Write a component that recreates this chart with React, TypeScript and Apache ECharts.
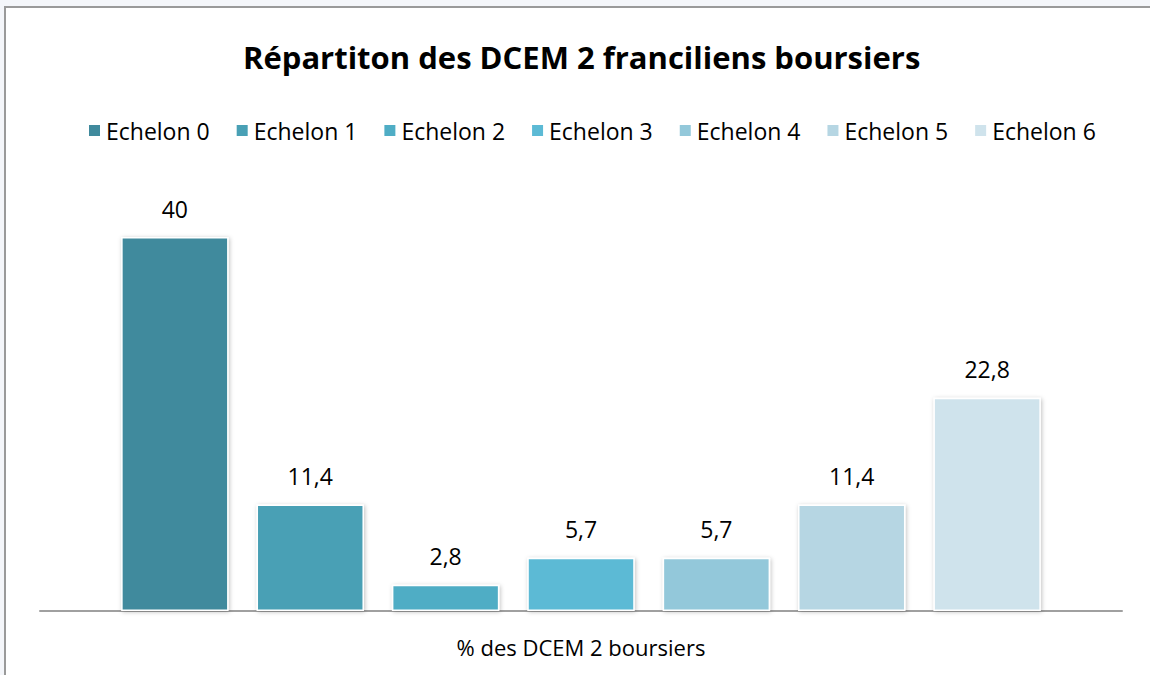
import React, { useEffect, useRef } from "react";
import * as echarts from "echarts";

const categories = ["% des DCEM 2 boursiers"];
const seriesNames = ["Echelon 0", "Echelon 1", "Echelon 2", "Echelon 3", "Echelon 4", "Echelon 5", "Echelon 6"];
const values = [40, 11.4, 2.8, 5.7, 5.7, 11.4, 22.8];
const colors = ["#408A9D", "#49A0B5", "#4FADC5", "#5CBAD5", "#93C8DA", "#B6D6E3", "#CFE3EC"];

export default function App() {
  const ref = useRef<HTMLDivElement>(null);
  useEffect(() => {
    if (!ref.current) return;
    const chart = echarts.init(ref.current, undefined, { renderer: "svg" });
    const font = "'Open Sans', sans-serif";
    chart.setOption({
      animation: false,
      backgroundColor: "#F4F6FA",
      textStyle: { fontFamily: font },
      graphic: [
        {
          type: "rect",
          shape: { x: 5, y: 7, width: 1160, height: 680 },
          style: { fill: "#ffffff", stroke: "#9A9A9A", lineWidth: 2 },
          z: -10,
        },
      ],
      title: {
        text: "Répartiton des DCEM 2 franciliens boursiers",
        left: 238,
        top: 36,
        textStyle: { fontFamily: font, fontSize: 31, fontWeight: "bold", color: "#000" },
      },
      legend: {
        top: 114,
        left: 82,
        itemWidth: 13,
        itemHeight: 13,
        itemGap: 25,
        icon: "rect",
        textStyle: { fontFamily: font, fontSize: 23, color: "#000" },
        data: seriesNames,
      },
      grid: { left: 40, right: 28, top: 237, bottom: 64 },
      xAxis: {
        type: "category",
        data: categories,
        axisLine: { lineStyle: { color: "#A0A0A0", width: 2 } },
        axisTick: { show: false },
        axisLabel: { fontFamily: font, fontSize: 22, color: "#000", margin: 25 },
      },
      yAxis: {
        type: "value",
        min: 0,
        max: 40,
        show: false,
        splitLine: { show: false },
      },
      series: seriesNames.map((name, i) => ({
        name,
        type: "bar",
        data: [values[i]],
        barCategoryGap: "15%",
        barGap: "26%",
        itemStyle: {
          color: colors[i],
          borderColor: "#ffffff",
          borderWidth: 1.5,
          shadowColor: "rgba(0,0,0,0.25)",
          shadowBlur: 4,
          shadowOffsetX: 1,
          shadowOffsetY: 1,
        },
        label: {
          show: true,
          position: "top",
          distance: 17,
          fontFamily: font,
          fontSize: 23,
          color: "#000",
          formatter: (p: any) => String(p.value).replace(".", ","),
        },
      })),
    });
    return () => chart.dispose();
  }, []);
  return (
    <div
      ref={ref}
      style={{ position: "fixed", left: 0, top: 0, width: 1150, height: 675 }}
    />
  );
}
